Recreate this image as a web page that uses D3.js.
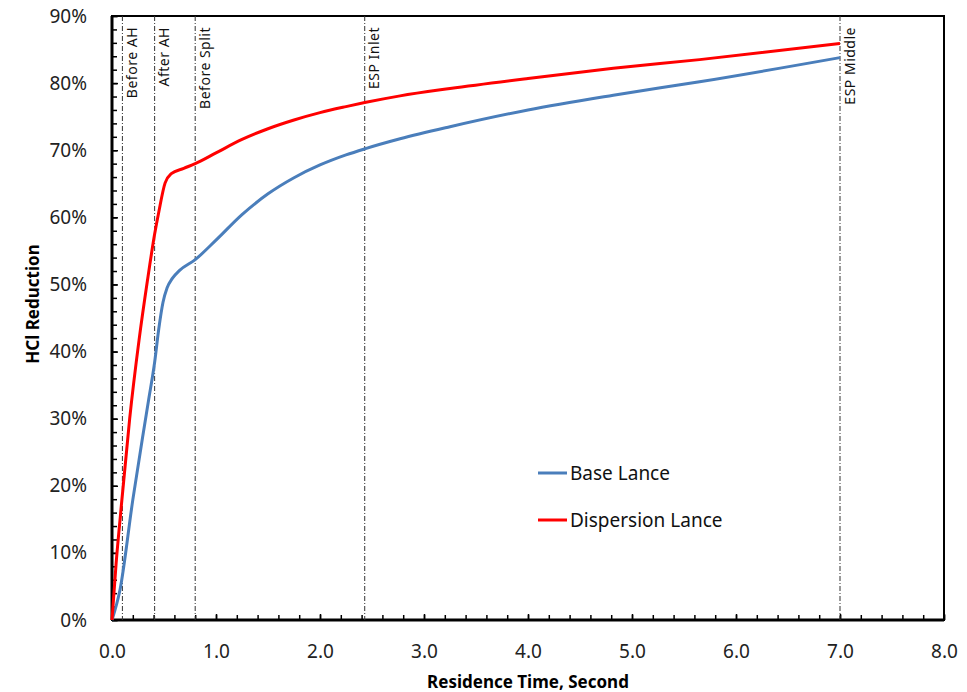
<!DOCTYPE html>
<html>
<head>
<meta charset="utf-8">
<script src="https://cdn.jsdelivr.net/npm/d3@7"></script>
<style>
  body { margin: 0; background: #fff; }
  svg { font-family: "Noto Sans", sans-serif; }
</style>
</head>
<body>
<div id="chart"></div>
<script>
// Series values (x = seconds, y = % reduction)
const baseX = [0, 0.077, 0.2, 0.3, 0.35, 0.41, 0.45, 0.49, 0.53, 0.58, 0.65, 0.8, 1.0, 1.25, 1.5, 1.75, 2.0, 2.25, 2.43, 2.77, 3.25, 4.0, 4.82, 5.65, 7.0];
const baseY = [0, 4.5, 17.9, 27.8, 32.6, 38.4, 43.4, 47.3, 49.5, 50.9, 52.1, 53.7, 56.6, 60.4, 63.5, 65.9, 67.8, 69.3, 70.2, 71.7, 73.5, 76.0, 78.2, 80.2, 83.8];

const dispX = [0, 0.04, 0.083, 0.17, 0.26, 0.34, 0.41, 0.45, 0.51, 0.57, 0.69, 0.8, 1.0, 1.25, 1.5, 1.75, 2.0, 2.25, 2.43, 2.77, 3.25, 4.0, 4.82, 5.65, 7.0];
const dispY = [0, 8.5, 15.9, 30.0, 41.7, 50.5, 57.5, 60.8, 65.1, 66.5, 67.3, 68.0, 69.6, 71.6, 73.2, 74.5, 75.6, 76.5, 77.1, 78.1, 79.2, 80.7, 82.2, 83.5, 85.9];

// Marker lines
const markerX = [0.1, 0.41, 0.8, 2.43, 7.0];
const markerLabels = ["Before AH", "After AH", "Before Split", "ESP Inlet", "ESP Middle"];

const xTicks = [0, 1, 2, 3, 4, 5, 6, 7, 8];
const yTicks = [0, 10, 20, 30, 40, 50, 60, 70, 80, 90];

const seriesNames = ["Base Lance", "Dispersion Lance"];
const seriesColors = ["#4A7EBB", "#FF0000"];

const W = 967, H = 692;
const margin = { top: 16, right: 23, bottom: 72, left: 112 };
const width = W - margin.left - margin.right;
const height = H - margin.top - margin.bottom;

const svg = d3.select("#chart").append("svg")
  .attr("width", W)
  .attr("height", H);

const g = svg.append("g")
  .attr("transform", `translate(${margin.left},${margin.top})`);

const x = d3.scaleLinear().domain([0, 8]).range([0, width]);
const y = d3.scaleLinear().domain([0, 90]).range([height, 0]);

// minor ticks (inside)
g.append("g")
  .attr("transform", `translate(0,${height})`)
  .call(d3.axisBottom(x).tickValues(d3.range(0, 8.01, 0.2)).tickSize(-5).tickFormat(""))
  .call(a => a.select(".domain").remove())
  .call(a => a.selectAll("line").attr("stroke", "#000").attr("stroke-width", 1.5));

g.append("g")
  .call(d3.axisLeft(y).tickValues(d3.range(0, 90.01, 2)).tickSize(-5).tickFormat(""))
  .call(a => a.select(".domain").remove())
  .call(a => a.selectAll("line").attr("stroke", "#000").attr("stroke-width", 1.5));

// major axes
const xAxis = g.append("g")
  .attr("transform", `translate(0,${height})`)
  .call(d3.axisBottom(x).tickValues(xTicks).tickSize(-6).tickPadding(25).tickFormat(d3.format(".1f")));

const yAxis = g.append("g")
  .call(d3.axisLeft(y).tickValues(yTicks).tickSize(-6).tickPadding(25).tickFormat(d => d + "%"));

[xAxis, yAxis].forEach(a => {
  a.select(".domain").remove();
  a.selectAll("line").attr("stroke", "#000").attr("stroke-width", 1.5);
  a.selectAll("text").attr("font-size", 19).attr("fill", "#222").attr("font-family", "Noto Sans");
});

// plot frame
g.append("rect")
  .attr("width", width).attr("height", height)
  .attr("fill", "none").attr("stroke", "#000").attr("stroke-width", 2);
g.append("line").attr("x1", 0).attr("x2", 0).attr("y1", 0).attr("y2", height)
  .attr("stroke", "#000").attr("stroke-width", 3);
g.append("line").attr("x1", 0).attr("x2", width).attr("y1", height).attr("y2", height)
  .attr("stroke", "#000").attr("stroke-width", 3);

// marker lines + labels
markerX.forEach((mx, i) => {
  g.append("line")
    .attr("x1", x(mx)).attr("x2", x(mx))
    .attr("y1", 0).attr("y2", height)
    .attr("stroke", "#333").attr("stroke-width", 1)
    .attr("stroke-dasharray", "5,2,1,2");
  g.append("text")
    .attr("transform", `translate(${x(mx) + 14.5},11) rotate(-90)`)
    .attr("text-anchor", "end")
    .attr("font-size", 14)
    .attr("letter-spacing", 0.5)
    .attr("fill", "#111")
    .text(markerLabels[i]);
});

const line = d3.line()
  .x(d => x(d[0]))
  .y(d => y(d[1]))
  .curve(d3.curveMonotoneX);

const series = [d3.zip(baseX, baseY), d3.zip(dispX, dispY)];

g.selectAll("path.series")
  .data(series)
  .join("path")
    .attr("class", "series")
    .attr("fill", "none")
    .attr("stroke", (d, i) => seriesColors[i])
    .attr("stroke-width", 3)
    .attr("stroke-linejoin", "round")
    .attr("d", line);

// legend
const legend = svg.append("g");
seriesNames.forEach((name, i) => {
  const ly = 473 + i * 47;
  legend.append("line")
    .attr("x1", 538).attr("x2", 567).attr("y1", ly).attr("y2", ly)
    .attr("stroke", seriesColors[i]).attr("stroke-width", 3);
  legend.append("text")
    .attr("x", 570).attr("y", ly + 7)
    .attr("font-size", 19).attr("fill", "#111")
    .text(name);
});

// axis titles
svg.append("text")
  .attr("x", margin.left + width / 2).attr("y", 688)
  .attr("text-anchor", "middle")
  .attr("font-size", 17).attr("font-weight", "bold")
  .text("Residence Time, Second");

svg.append("text")
  .attr("transform", `translate(39,304) rotate(-90)`)
  .attr("text-anchor", "middle")
  .attr("font-size", 17).attr("font-weight", "bold")
  .text("HCl Reduction");
</script>
</body>
</html>
